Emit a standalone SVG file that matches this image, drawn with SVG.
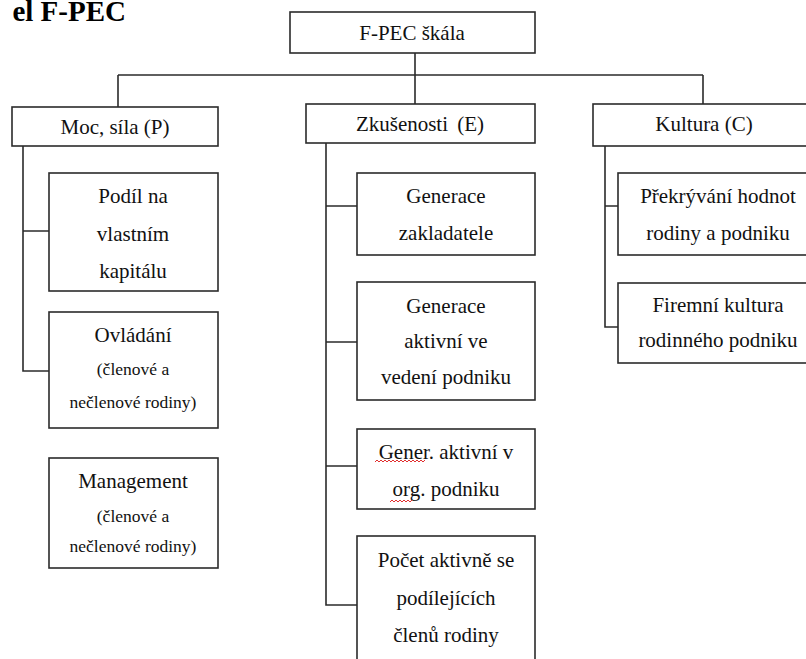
<svg xmlns="http://www.w3.org/2000/svg" width="806" height="659" viewBox="0 0 806 659">
<style>
.box{fill:#fff;stroke:#2b2b2b;stroke-width:1.6}
.ln{fill:none;stroke:#2b2b2b;stroke-width:1.6}
.t{font-family:"Liberation Serif","Times New Roman",serif;font-size:21px;fill:#111;text-anchor:middle}
.s{font-size:17.5px}
.title{font-family:"Liberation Serif","Times New Roman",serif;font-size:29px;font-weight:bold;fill:#000;text-anchor:end}
.sq{fill:none;stroke:#e03030;stroke-width:1}
</style>
<rect width="806" height="659" fill="#fff"/>
<text class="title" x="126" y="21">el F-PEC</text>

<g id="connectors">
<path class="ln" d="M415 53V106M118 75H703M118 75V107M703 75V104"/>
<path class="ln" d="M23 146V371H49M23 231H49"/>
<path class="ln" d="M326 143V605H357M326 206H357M326 342H357M326 466H357"/>
<path class="ln" d="M605 146V327H618M605 206H618"/>
</g>

<g id="root"><rect class="box" x="290" y="12" width="245" height="41"/><text class="t" x="412" y="40">F-PEC škála</text></g>

<g id="moc"><rect class="box" x="12" y="107" width="206" height="39"/><text class="t" x="115" y="134">Moc, síla (P)</text></g>
<g id="zkusenosti"><rect class="box" x="306" y="104" width="229" height="39"/><text class="t" x="420" y="131">Zkušenosti<tspan dx="4"> (E)</tspan></text></g>
<g id="kultura"><rect class="box" x="593" y="104" width="225" height="42"/><text class="t" x="704" y="131">Kultura (C)</text></g>

<g id="podil"><rect class="box" x="49" y="173" width="169" height="118"/>
<text class="t" x="133" y="203">Podíl na</text><text class="t" x="133" y="241">vlastním</text><text class="t" x="133" y="278">kapitálu</text></g>
<g id="ovladani"><rect class="box" x="49" y="312" width="169" height="116"/>
<text class="t" x="133" y="342">Ovládání</text><text class="t s" x="133" y="375">(členové a</text><text class="t s" x="133" y="408">nečlenové rodiny)</text></g>
<g id="management"><rect class="box" x="49" y="458" width="169" height="110"/>
<text class="t" x="133" y="488">Management</text><text class="t s" x="133" y="522">(členové a</text><text class="t s" x="133" y="552">nečlenové rodiny)</text></g>

<g id="gen-zakl"><rect class="box" x="357" y="173" width="178" height="82"/>
<text class="t" x="446" y="203">Generace</text><text class="t" x="446" y="240">zakladatele</text></g>
<g id="gen-vedeni"><rect class="box" x="357" y="282" width="178" height="118"/>
<text class="t" x="446" y="313">Generace</text><text class="t" x="446" y="348">aktivní ve</text><text class="t" x="446" y="384">vedení podniku</text></g>
<g id="gen-org"><rect class="box" x="357" y="429" width="178" height="80"/>
<text class="t" x="446" y="459">Gener. aktivní v</text><text class="t" x="446" y="496">org. podniku</text>
<path class="sq" d="M375 462l2 -2l2 2l2 -2l2 2l2 -2l2 2l2 -2l2 2l2 -2l2 2l2 -2l2 2l2 -2l2 2l2 -2l2 2l2 -2l2 2l2 -2l2 2l2 -2l2 2l2 -2l2 2l2 -2"/>
<path class="sq" d="M390 502l2 -2l2 2l2 -2l2 2l2 -2l2 2l2 -2l2 2l2 -2l2 2l2 -2"/></g>
<g id="pocet"><rect class="box" x="357" y="536" width="178" height="130"/>
<text class="t" x="446" y="567">Počet aktivně se</text><text class="t" x="446" y="605">podílejících</text><text class="t" x="446" y="642">členů rodiny</text></g>

<g id="prekryvani"><rect class="box" x="618" y="173" width="200" height="82"/>
<text class="t" x="718" y="203">Překrývání hodnot</text><text class="t" x="718" y="240">rodiny a podniku</text></g>
<g id="firemni"><rect class="box" x="618" y="283" width="200" height="80"/>
<text class="t" x="718" y="312">Firemní kultura</text><text class="t" x="718" y="347">rodinného podniku</text></g>
</svg>
